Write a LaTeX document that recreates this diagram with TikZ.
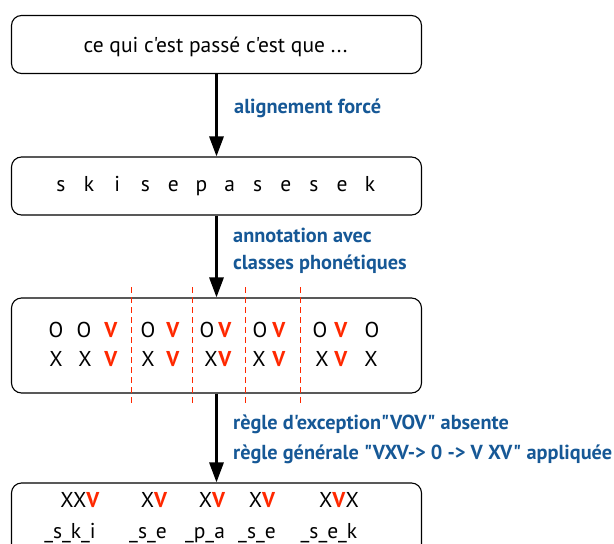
\documentclass[tikz,border=0pt]{standalone}
\usepackage{fontspec}
\setmainfont{PT Sans}[Ligatures=TeXOff]
\usepackage{tikz}
\usetikzlibrary{positioning}
\usetikzlibrary{arrows.meta}
\definecolor{bleu}{RGB}{22,88,150}
\definecolor{rouge}{RGB}{255,40,0}
\newcommand\vv{\textcolor{rouge}{\textbf{V}}}

\begin{document}
\begin{tikzpicture}[x=1pt, y=-1pt, font=\fontsize{21.5}{25}\selectfont,
  boite/.style={draw, rounded corners=10pt, line width=1.1pt, minimum width=410pt, minimum height=#1, inner sep=0pt},
  boite/.default=58pt,
  txt/.style={anchor=base, inner sep=0pt},
  lbl/.style={text=bleu, font=\fontsize{20.3}{24}\selectfont\bfseries, anchor=west, inner sep=0pt},
  fleche/.style={line width=3pt, -{Triangle[length=20pt,width=14pt]}},
  coupe/.style={rouge, dashed, line width=0.8pt, dash pattern=on 6pt off 4pt}]
\useasboundingbox (0,0) rectangle (614,544);

% boites
\node [boite] (phrase) at (216.5,44.5) {};
\node [txt] (texte) at (215.5,52) {ce qui c'est passé c'est que ...};
\node [boite] (phon) at (216.5,186) {};
\node [boite=95pt] (classes) at (216.5,345.5) {};
\node [boite=80pt] (syll) at (216.5,523) {};

% phonemes
\foreach \p [count=\i from 0] in {s,k,i,s,e,p,a,s,e,s,e,k}
  \node [txt] (p\i) at (61+28.1*\i,191) {\p};

% classes phonetiques
\foreach \c/\x [count=\i] in {O/56,O/84,\vv/111,O/148,\vv/173,O/207,\vv/225,O/260,\vv/279,O/320,\vv/341,O/372}
  \node [txt] (o\i) at (\x,337) {\c};
\foreach \c/\x [count=\i] in {X/56,X/85,\vv/111,X/148,\vv/173,X/211,\vv/225,X/259,\vv/279,X/322,\vv/341,X/371}
  \node [txt] (x\i) at (\x,366) {\c};

% coupures
\foreach \x in {131,192,245,300}
  \draw [coupe] (\x,287) -- (\x,405);

% syllabes
\node [txt] (s1) at (80,507) {XX\vv};
\node [txt] (s2) at (154,507) {X\vv};
\node [txt] (s3) at (212,507) {X\vv};
\node [txt] (s4) at (262,507) {X\vv};
\node [txt] (s5) at (339,507) {X\vv X};
\node [txt] (t1) at (70,538) {\_s\_k\_i};
\node [txt] (t2) at (148,538) {\_s\_e};
\node [txt] (t3) at (205,538) {\_p\_a};
\node [txt] (t4) at (257,538) {\_s\_e};
\node [txt] (t5) at (329,538) {\_s\_e\_k};

% fleches
\draw [fleche] (phrase) -- (phon);
\draw [fleche] (phon) -- (classes);
\draw [fleche] (classes) -- (syll);

\node [lbl] (l1) at (234,108) {alignement forcé};
\node [lbl] (l2) at (233,235) {annotation avec};
\node [below = 12pt of l2.south west, lbl, anchor=north west] (l3) {classes phonétiques};
\node [lbl] (l4) at (233,424) {règle d'exception"VOV" absente};
\node [below = 11pt of l4.south west, lbl, anchor=north west] (l5) {règle générale "VXV-> 0 -> V XV" appliquée};
\end{tikzpicture}
\end{document}
